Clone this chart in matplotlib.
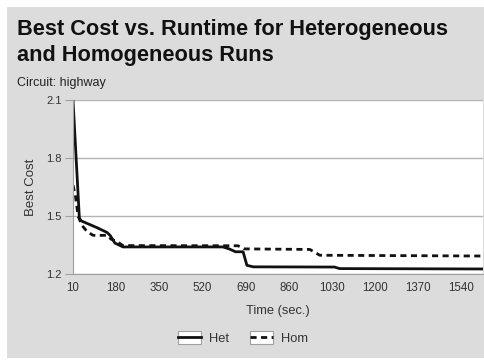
import matplotlib.pyplot as plt
from matplotlib.patches import Rectangle
from matplotlib.lines import Line2D
from matplotlib.legend_handler import HandlerTuple

# Het (solid) run: time (sec.) and best cost
het_time = [10, 35, 42, 104, 144, 156, 175, 207, 600, 625, 650, 680, 695, 720, 1040, 1060, 1625]
het_cost = [2.10, 1.49, 1.475, 1.44, 1.415, 1.40, 1.36, 1.34, 1.34, 1.33, 1.315, 1.315, 1.245, 1.237, 1.236, 1.228, 1.226]

# Hom (dashed) run
hom_time = [10, 20, 30, 45, 65, 89, 144, 160, 180, 207, 660, 685, 943, 982, 1625]
hom_cost = [1.66, 1.60, 1.50, 1.452, 1.42, 1.40, 1.40, 1.38, 1.37, 1.347, 1.346, 1.33, 1.327, 1.297, 1.293]

x_ticks = [10, 180, 350, 520, 690, 860, 1030, 1200, 1370, 1540]
y_ticks = [1.2, 1.5, 1.8, 2.1]

plt.rcParams['font.family'] = ['Liberation Sans', 'DejaVu Sans']

fig = plt.figure(figsize=(4.85, 3.6), dpi=100, facecolor='white')
fig.patches.append(Rectangle((7 / 485, 2 / 360), 478 / 485, 351 / 360,
                             transform=fig.transFigure, facecolor='#dcdcdc',
                             edgecolor='none', zorder=-10))

ax = fig.add_axes([73 / 485, 86 / 360, 410 / 485, 174 / 360])
ax.set_facecolor('white')

dash = (0, (2.2, 1.6))
ax.plot(het_time, het_cost, color='#111111', lw=2)
ax.plot(hom_time, hom_cost, color='#111111', lw=2, ls=dash)

ax.set_xlim(10, 1625)
ax.set_ylim(1.2, 2.1)
ax.set_xticks(x_ticks)
ax.set_yticks(y_ticks)
ax.set_yticklabels(['1.2', '1.5', '1.8', '2.1'])
ax.yaxis.grid(True, color='#b4b4b4', lw=1)
ax.set_axisbelow(True)
for s in ['top', 'right']:
    ax.spines[s].set_visible(False)
for s in ['left', 'bottom']:
    ax.spines[s].set_color('#a0a0a0')
ax.tick_params(axis='y', length=6, color='#a0a0a0', labelsize=8, labelcolor='#333333', pad=2)
ax.tick_params(axis='x', length=0, labelsize=8.3, labelcolor='#333333', pad=6)

ax.set_ylabel('Best Cost', fontsize=9.5, color='#333333', labelpad=7)
ax.set_xlabel('Time (sec.)', fontsize=9.3, color='#333333', labelpad=8)

fig.text(17 / 485, 1 - 35 / 360, 'Best Cost vs. Runtime for Heterogeneous',
         fontsize=15.7, fontweight='bold', color='#111111', va='baseline')
fig.text(17 / 485, 1 - 61 / 360, 'and Homogeneous Runs',
         fontsize=15.7, fontweight='bold', color='#111111', va='baseline')
fig.text(17 / 485, 1 - 86 / 360, 'Circuit: highway', fontsize=9, color='#222222', va='baseline')

box = lambda: Rectangle((0, 0), 1, 1, facecolor='white', edgecolor='#a0a0a0', lw=0.8)
het_h = (box(), Line2D([], [], color='#111111', lw=2))
hom_h = (box(), Line2D([], [], color='#111111', lw=2, ls=dash))
fig.legend([het_h, hom_h], ['Het', 'Hom'], handler_map={tuple: HandlerTuple(ndivide=1, pad=0)},
           loc='center', bbox_to_anchor=(243 / 485, 1 - 338 / 360), ncol=2, frameon=False,
           fontsize=9.3, handlelength=1.8, handleheight=1.1, columnspacing=1.6, handletextpad=0.6,
           labelcolor='#333333')

fig.savefig('out.png', dpi=100, facecolor='white')
